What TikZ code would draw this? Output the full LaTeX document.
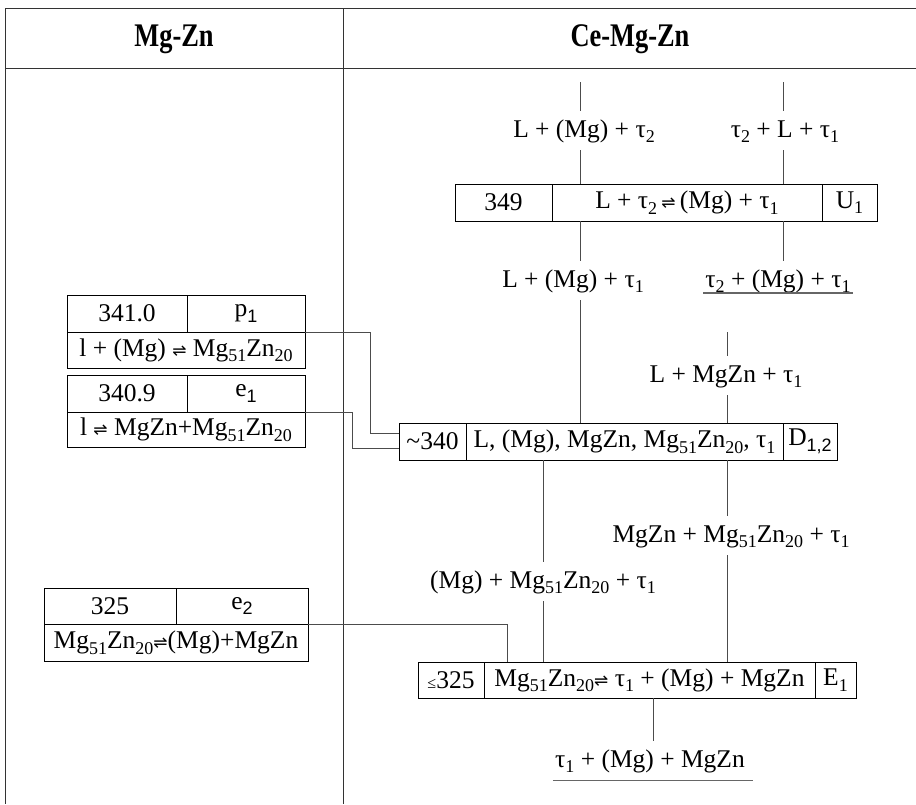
\documentclass[tikz,border=0pt]{standalone}
\usepackage{fontspec}
\setmainfont{Liberation Serif}
\newfontfamily\symfont{DejaVu Sans}
\newfontfamily\subsans{Liberation Sans}
\newcommand{\sbs}[1]{\raisebox{-5.5pt}{\fontsize{18}{18}\selectfont #1}}
\newcommand{\eqsym}{{\symfont\fontsize{17}{17}\selectfont ⇌}}
\newcommand{\fs}{\fontsize{25.5}{29}\selectfont}
\begin{document}
\begin{tikzpicture}[x=1pt,y=-1pt,
  cell/.style={draw=black, line width=0.9pt, inner sep=0pt, outer sep=0pt, font=\fs, anchor=center},
  lab/.style={inner xsep=2pt, inner ysep=0pt, text height=26pt, text depth=13pt, anchor=base, font=\fs},
  conn/.style={draw=black!70, line width=0.8pt},
  frame/.style={draw=black!80, line width=1pt},
  uline/.style={draw=black!60, line width=1.4pt},
  ttl/.style={font=\fontsize{33}{35}\selectfont\bfseries}]
\useasboundingbox (0,0) rectangle (916,804);
\fill[white] (0,0) rectangle (916,804);
% frame
\draw[frame] (5,8) -- (916,8);
\draw[frame] (5,68) -- (916,68);
\draw[frame] (5,8) -- (5,804);
\draw[frame] (343,8) -- (343,804);
\node[ttl] (h1) at (174,39) {\scalebox{0.8}[1]{Mg-Zn}};
\node[ttl] (h2) at (630,39) {\scalebox{0.8}[1]{Ce-Mg-Zn}};
% U1
\node[cell, minimum width=97pt, minimum height=37pt] (u1A) at (503.5,202.5) {349};
\node[cell, minimum width=270pt, minimum height=37pt] (u1B) at (687,202.5) {L + τ\sbs{2}\,\eqsym\,(Mg) + τ\sbs{1}};
\node[cell, minimum width=55pt, minimum height=37pt] (u1C) at (849.5,202.5) {U\sbs{1}};
% D
\node[cell, minimum width=67pt, minimum height=37pt] (dA) at (432.5,441.5) {\textasciitilde340};
\node[cell, minimum width=317pt, minimum height=37pt] (dB) at (624.5,441.5) {L, (Mg), MgZn, Mg\sbs{51}Zn\sbs{20}, τ\sbs{1}};
\node[cell, minimum width=54pt, minimum height=37pt] (dC) at (810,441.5) {D\sbs{\subsans 1,2}};
% E
\node[cell, minimum width=66pt, minimum height=36pt] (eA) at (451,680) {{\fontsize{16}{16}\selectfont ≤}325};
\node[cell, minimum width=331pt, minimum height=36pt] (eB) at (649.5,680) {Mg\sbs{51}Zn\sbs{20}\eqsym\ τ\sbs{1} + (Mg) + MgZn};
\node[cell, minimum width=41pt, minimum height=36pt] (eC) at (835.5,680) {E\sbs{1}};
% p1
\node[cell, minimum width=120pt, minimum height=37pt] (p1A) at (127,313.5) {341.0};
\node[cell, minimum width=118pt, minimum height=37pt] (p1B) at (246,313.5) {p\sbs{\subsans 1}};
\node[cell, minimum width=238pt, minimum height=36pt] (p1C) at (186,350) {l + (Mg) \eqsym\ Mg\sbs{51}Zn\sbs{20}};
% e1
\node[cell, minimum width=120pt, minimum height=37pt] (e1A) at (127,393.5) {340.9};
\node[cell, minimum width=118pt, minimum height=37pt] (e1B) at (246,393.5) {e\sbs{\subsans 1}};
\node[cell, minimum width=238pt, minimum height=35pt] (e1C) at (186,429.5) {l \eqsym\ MgZn+Mg\sbs{51}Zn\sbs{20}};
% e2
\node[cell, minimum width=132pt, minimum height=36pt] (e2A) at (110,606) {325};
\node[cell, minimum width=132pt, minimum height=36pt] (e2B) at (242,606) {e\sbs{\subsans 2}};
\node[cell, minimum width=264pt, minimum height=37pt] (e2C) at (176,642.5) {Mg\sbs{51}Zn\sbs{20}\eqsym(Mg)+MgZn};
% labels
\node[lab] (lA) at (584,137) {L + (Mg) + τ\sbs{2}};
\node[lab] (lB) at (785,137) {τ\sbs{2} + L + τ\sbs{1}};
\node[lab] (lC) at (573,287) {L + (Mg) + τ\sbs{1}};
\node[lab] (lD) at (778,287) {τ\sbs{2} + (Mg) + τ\sbs{1}};
\node[lab] (lE) at (726,382) {L + MgZn + τ\sbs{1}};
\node[lab] (lF) at (731,542) {MgZn + Mg\sbs{51}Zn\sbs{20} + τ\sbs{1}};
\node[lab] (lG) at (543,588) {(Mg) + Mg\sbs{51}Zn\sbs{20} + τ\sbs{1}};
\node[lab] (lH) at (650,767) {τ\sbs{1} + (Mg) + MgZn};
% column coordinates
\coordinate (t1) at (580,82);
\coordinate (t2) at (783,82);
\coordinate (t3) at (727,332);
\coordinate (c1) at (543,0);
\coordinate (c2) at (653,0);
% vertical connectors
\draw[conn] (t1) -- (t1 |- lA.north);
\draw[conn] (t1 |- lA.south) -- (t1 |- u1B.north);
\draw[conn] (t2) -- (t2 |- lB.north);
\draw[conn] (t2 |- lB.south) -- (t2 |- u1B.north);
\draw[conn] (t1 |- u1B.south) -- (t1 |- lC.north);
\draw[conn] (t1 |- lC.south) -- (t1 |- dB.north);
\draw[conn] (t2 |- u1B.south) -- (t2 |- lD.north);
\draw[conn] (t3) -- (t3 |- lE.north);
\draw[conn] (t3 |- lE.south) -- (t3 |- dB.north);
\draw[conn] (c1 |- dB.south) -- (c1 |- lG.north);
\draw[conn] (c1 |- lG.south) -- (c1 |- eB.north);
\draw[conn] (t3 |- dB.south) -- (t3 |- lF.north);
\draw[conn] (t3 |- lF.south) -- (t3 |- eB.north);
\draw[conn] (c2 |- eB.south) -- (c2 |- lH.north);
% elbow connectors
\draw[conn] (p1C.north east) -- ++(65,0) |- ([yshift=8.5pt]dA.west);
\draw[conn] (e1C.north east) -- ++(47,0) |- ([yshift=-6.5pt]dA.west);
\draw[conn] (e2C.north east) -| ([xshift=23pt]eB.north west);
% underlines
\draw[uline] ([yshift=-6pt]lD.base west) -- ([yshift=-6pt]lD.base east);
\draw[uline] (lH.south west) -- ([xshift=6pt]lH.south east);
\end{tikzpicture}
\end{document}
